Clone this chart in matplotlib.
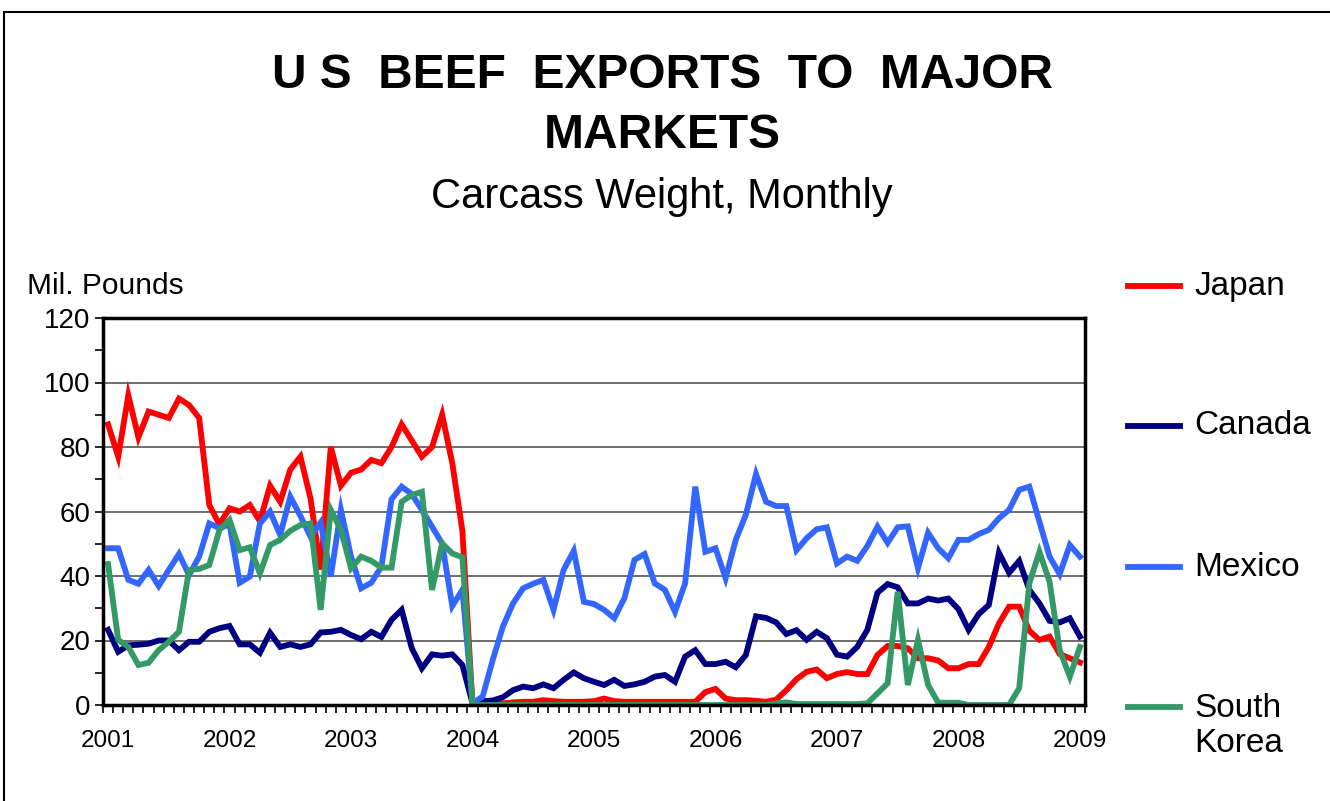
import numpy as np
import matplotlib
matplotlib.use("Agg")
import matplotlib.pyplot as plt
from matplotlib.lines import Line2D

plt.rcParams['font.family'] = ['Liberation Sans', 'DejaVu Sans']

# monthly values, Jan 2001 .. Jan 2009 (97 months), mil. pounds
japan = [87, 77, 96, 83, 91, 90, 89, 95, 93, 89, 62, 56,
         61, 60, 62, 57, 68, 63, 73, 77, 64, 42, 80, 68,
         72, 73, 76, 75, 80, 87, 82, 77, 80, 90, 75, 54,
         0, 0.3, 0.5, 0.5, 0.8, 1, 1, 1.5, 1.2, 1, 1, 1,
         1.2, 2, 1.2, 1, 1, 1, 1, 1, 1, 1, 1, 4,
         5, 2, 1.5, 1.5, 1.3, 1, 1.7, 4.6, 8, 10.3, 11, 8.3,
         9.6, 10.2, 9.6, 9.6, 15.5, 18.3, 18.3, 17.6, 14.5, 14.5, 13.8, 11.4,
         11.4, 12.7, 12.7, 18, 25.3, 30.5, 30.5, 23, 20.2, 21.2, 15.8, 14.5,
         13.2]
canada = [23.3, 16.5, 18.5, 18.7, 19, 20, 20, 17, 19.6, 19.6, 22.7, 23.8,
          24.5, 18.8, 18.8, 16.2, 22.4, 18, 18.8, 18, 18.8, 22.5, 22.7, 23.3,
          21.7, 20.4, 22.7, 21.1, 26.4, 29.5, 17.6, 11.4, 15.7, 15.3, 15.7, 12.4,
          0.5, 1.2, 1.4, 2.4, 4.6, 5.7, 5.2, 6.4, 5.2, 7.8, 10.1, 8.3,
          7.2, 6.2, 7.8, 5.9, 6.4, 7.2, 8.8, 9.3, 7.2, 15, 17, 12.7,
          12.7, 13.4, 11.7, 15.5, 27.5, 27, 25.6, 22, 23.2, 20.2, 22.7, 20.7,
          15.6, 15, 18, 23.3, 34.8, 37.5, 36.5, 31.5, 31.5, 33, 32.4, 33,
          29.7, 23.3, 28.2, 31, 47.2, 41, 44.7, 35.7, 31.5, 26.1, 25.6, 26.9,
          21.2]
mexico = [48.6, 48.6, 38.8, 37.6, 41.9, 36.9, 41.9, 46.8, 40.3, 46, 56.3, 54.8,
          56, 37.9, 39.8, 56.3, 60, 52.7, 64.6, 58.6, 52.2, 56.6, 39.8, 60.5,
          46, 36.2, 37.9, 42.9, 63.8, 67.7, 65.4, 60.5, 55.3, 50.1, 30.7, 35.7,
          0.5, 2.6, 14, 24.3, 31.5, 36.2, 37.6, 38.8, 29.5, 41.9, 47.8, 32,
          31.3, 29.5, 26.9, 33.1, 45, 46.8, 37.7, 35.7, 28.9, 37.7, 67.7, 47.5,
          48.6, 39.3, 51.2, 59, 71.6, 63, 61.7, 61.7, 48, 51.7, 54.5, 55.1,
          43.9, 46, 44.7, 49.3, 55.3, 50.3, 55.1, 55.4, 42.4, 53.4, 48.6, 45.5,
          51.2, 51.2, 53, 54.3, 57.9, 60.5, 66.7, 67.7, 56.8, 46, 40.6, 49.6,
          46]
korea = [43.7, 20.2, 18, 12.4, 13.1, 17, 19.6, 22.7, 41.9, 42.2, 43.4, 54.3,
         57.4, 48, 48.9, 40.8, 49.6, 51.2, 54, 55.8, 56.3, 29.5, 60.5, 54.3,
         42.4, 46, 44.7, 42.6, 42.6, 63, 65.1, 66.1, 35.7, 50.1, 47, 45.8,
         0, 0, 0, 0, 0, 0, 0, 0, 0, 0, 0, 0,
         0, 0, 0, 0, 0, 0, 0, 0, 0, 0, 0, 0,
         0, 0, 0, 0, 0, 0, 0.5, 0.8, 0.3, 0.3, 0.3, 0.3,
         0.3, 0.3, 0.3, 0.5, 3.6, 6.7, 35.1, 6.2, 20.2, 6.2, 0.7, 0.7,
         0.7, 0, 0, 0, 0, 0, 5.2, 37.7, 47.5, 38.2, 17, 8.8,
         18]
years = ['2001', '2002', '2003', '2004', '2005', '2006', '2007', '2008', '2009']

series = [('Japan', japan, '#FF0000'),
          ('Canada', canada, '#000080'),
          ('Mexico', mexico, '#3366FF'),
          ('South\nKorea', korea, '#339966')]

W, H = 1330, 801
fig = plt.figure(figsize=(W / 100, H / 100), dpi=100)

# outer chart frame (left and top edges visible)
fig.add_artist(Line2D([4 / W, 4 / W], [0, 1 - 12 / H], color='black', lw=1.5))
fig.add_artist(Line2D([4 / W, 1], [1 - 12 / H, 1 - 12 / H], color='black', lw=1.5))

ax = fig.add_axes([103 / W, (H - 705) / H, 982 / W, 387 / H])
x = np.arange(len(japan))
for name, vals, col in series:
    ax.plot(x, vals, color=col, lw=4.2, solid_joinstyle='miter')

ax.set_xlim(-0.5, len(japan) - 0.5)
ax.set_ylim(0, 120)
ax.set_yticks(np.arange(0, 121, 20))
ax.set_yticks(np.arange(0, 121, 10), minor=True)
ax.tick_params(axis='y', which='both', direction='out', length=6, width=1.2, labelsize=20, pad=3)
ax.set_xticks(np.arange(0, len(japan), 12))
ax.set_xticklabels(years)
ax.set_xticks(np.arange(-0.5, len(japan), 1), minor=True)
ax.tick_params(axis='x', which='major', length=0, labelsize=17.5, pad=18)
ax.tick_params(axis='x', which='minor', direction='out', length=6, width=1.2)
ax.grid(axis='y', which='major', color='#555555', lw=1.2)
ax.set_axisbelow(True)
for s in ax.spines.values():
    s.set_linewidth(2.5)
    s.set_color('black')

fig.text(662 / W, 1 - 75 / H, 'U S  BEEF  EXPORTS  TO  MAJOR', ha='center', va='center',
         fontsize=34.5, fontweight='bold')
fig.text(662 / W, 1 - 135 / H, 'MARKETS', ha='center', va='center',
         fontsize=34.5, fontweight='bold')
fig.text(662 / W, 1 - 197 / H, 'Carcass Weight, Monthly', ha='center', va='center', fontsize=30)
fig.text(27 / W, 1 - 286 / H, 'Mil. Pounds', ha='left', va='center', fontsize=21.5)

# legend on the right
leg_y = [286, 426, 567, 707]
for (name, vals, col), ly in zip(series, leg_y):
    fig.add_artist(Line2D([1128 / W, 1180 / W], [1 - ly / H, 1 - ly / H], color=col, lw=4.2))
    if '\n' in name:
        fig.text(1194 / W, 1 - (ly + 19) / H, name, ha='left', va='center', fontsize=24,
                 linespacing=1.15)
    else:
        fig.text(1194 / W, 1 - ly / H, name, ha='left', va='center', fontsize=24)

fig.savefig('out.png', dpi=100)
